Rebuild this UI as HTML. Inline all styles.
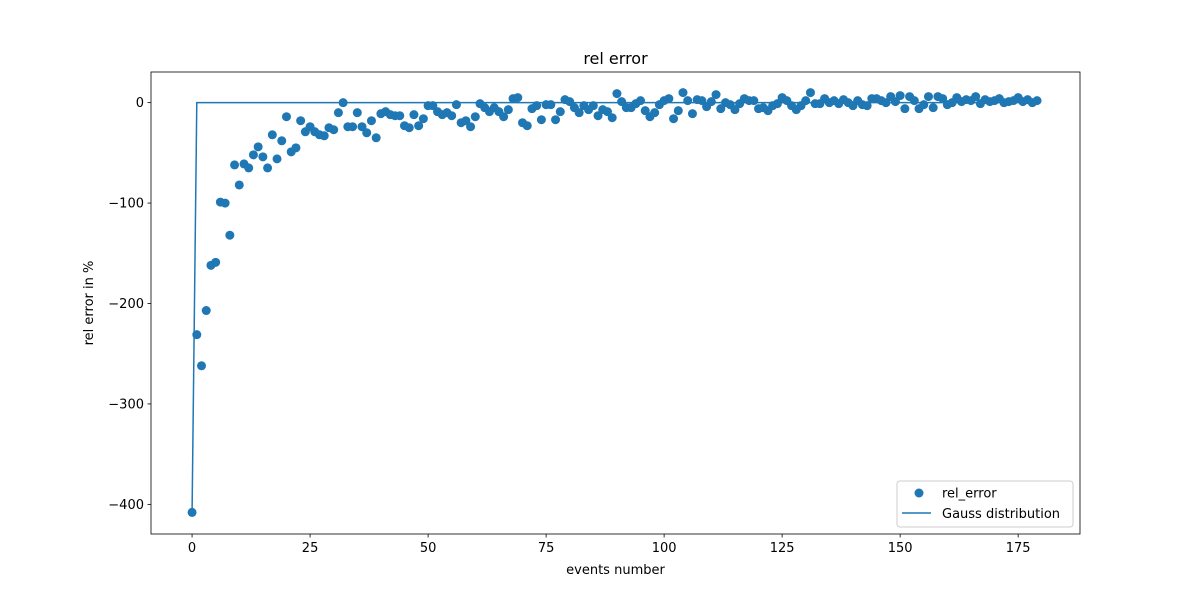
<!DOCTYPE html>
<html><head><meta charset="utf-8"><style>
body{margin:0;background:#fff}
svg{display:block;font-family:"DejaVu Sans","Liberation Sans",sans-serif}
</style></head><body>
<svg id="chart" width="1200" height="600" viewBox="0 0 1200 600" xmlns="http://www.w3.org/2000/svg">
<rect width="1200" height="600" fill="#fff"/>
<text x="615.5" y="64" text-anchor="middle" font-size="16">rel error</text>
<g id="xticks"></g>
<g id="yticks"></g>
<g id="marks"></g>
<rect x="151" y="72" width="929" height="462" fill="none" stroke="#000" stroke-width="0.8"/>
<text x="615.5" y="574" text-anchor="middle" font-size="13">events number</text>
<text transform="translate(93,303) rotate(-90)" text-anchor="middle" font-size="13">rel error in %</text>
<g>
<rect x="897" y="481" width="176" height="46" rx="3" fill="#fff" stroke="#ccc"/>
<circle cx="919" cy="493" r="4.5" fill="#1f77b4"/>
<text x="942" y="497.5" font-size="13">rel_error</text>
<line x1="902" y1="513" x2="931" y2="513" stroke="#1f77b4" stroke-width="1.5"/>
<text x="942" y="518" font-size="13">Gauss distribution</text>
</g>
</svg>
<script>
const relError = [-408,-231,-262,-207,-162,-159,-99,-100,-132,-62,-82,-61,-65,-52,-44,-54,-65,-32,-56,-38,
-14,-49,-45,-18,-29,-24,-29,-32,-33,-25,-27,-10,0,-24,-24,-10,-24,-30,-18,-35,
-11,-9,-12,-13,-13,-23,-25,-12,-23,-16,-3,-3,-9,-12,-10,-13,-2,-20,-18,-24,
-14,-1,-5,-9,-5,-9,-14,-7,4,5,-20,-23,-6,-3,-17,-2,-2,-17,-9,3,
1,-5,-10,-3,-7,-3,-13,-7,-9,-15,9,1,-5,-5,-1,2,-8,-14,-10,-2,
2,4,-16,-8,10,2,-11,3,2,-4,1,8,-6,0,-2,-7,-1,4,2,2,
-6,-5,-8,-3,-1,5,2,-3,-7,-3,2,10,-1,-1,4,0,2,-1,3,0,
-3,2,-2,-3,4,4,2,0,6,1,7,-6,6,2,-6,-2,6,-5,6,4,
-2,0,5,1,3,2,6,-1,3,1,2,4,0,1,2,5,1,3,0,2];
const gaussLine = [-408];
for (let i=1;i<relError.length;i++) gaussLine.push(0);
const xTickVals = [0,25,50,75,100,125,150,175];
const yTickVals = [0,-100,-200,-300,-400];

const X0=151,X1=1080,Y0=72,Y1=534, xmin=-8.7,xmax=188.1,ymin=-429.5,ymax=30.5;
const xs=v=>X0+(v-xmin)/(xmax-xmin)*(X1-X0);
const ys=v=>Y1-(v-ymin)/(ymax-ymin)*(Y1-Y0);
const NS='http://www.w3.org/2000/svg';
function mk(t,a,p){const e=document.createElementNS(NS,t);for(const k in a)e.setAttribute(k,a[k]);p.appendChild(e);return e;}
const gx=document.getElementById('xticks'),gy=document.getElementById('yticks'),gm=document.getElementById('marks');
xTickVals.forEach(v=>{
  const x=xs(v);
  const l=mk('line',{x1:x,x2:x,y1:Y1,y2:Y1+3.5,stroke:'#000','stroke-width':0.8},gx);
  
  
  const t=mk('text',{x:x,y:Y1+18,'text-anchor':'middle','font-size':13},gx);
  t.textContent=v;
  
  
});
yTickVals.forEach(v=>{
  const y=ys(v);
  const l=mk('line',{x1:X0-3.5,x2:X0,y1:y,y2:y,stroke:'#000','stroke-width':0.8},gy);
  
  
  const t=mk('text',{x:X0-7,y:y+4.5,'text-anchor':'end','font-size':13},gy);
  t.textContent=v<0?'\u2212'+(-v):v;
  
  
});
const pts=gaussLine.map((v,i)=>xs(i)+','+ys(v)).join(' ');
const pl=mk('polyline',{points:pts,fill:'none',stroke:'#1f77b4','stroke-width':1.5},gm);


relError.forEach((v,i)=>{
  const c=mk('circle',{cx:xs(i),cy:ys(v),r:4.5,fill:'#1f77b4'},gm);
  
  
});
</script>
</body></html>
